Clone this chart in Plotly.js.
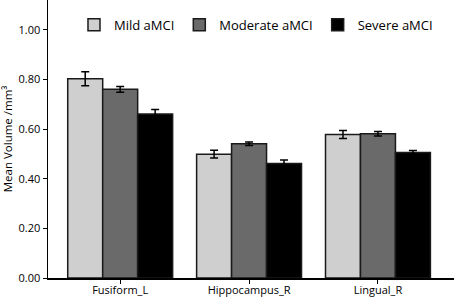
<!DOCTYPE html>
<html>
<head>
<meta charset="utf-8">
<script src="https://cdn.plot.ly/plotly-3.0.1.min.js"></script>
<style>html,body{margin:0;padding:0;background:#fff;}#chart{width:454px;height:298px;}</style>
</head>
<body>
<div id="chart"></div>
<script>
const categories = ["Fusiform_L", "Hippocampus_R", "Lingual_R"];
const seriesNames = ["Mild aMCI", "Moderate aMCI", "Severe aMCI"];
const mildValues = [0.803, 0.499, 0.578];
const mildErrors = [0.028, 0.016, 0.016];
const moderateValues = [0.760, 0.541, 0.581];
const moderateErrors = [0.012, 0.007, 0.009];
const severeValues = [0.661, 0.461, 0.506];
const severeErrors = [0.018, 0.014, 0.008];
const yTickVals = [0, 0.2, 0.4, 0.6, 0.8, 1.0];
const yTickText = ["0.00", "0.20", "0.40", "0.60", "0.80", "1.00"];

const colors = ["#cfcfcf", "#6a6a6a", "#000000"];
const vals = [mildValues, moderateValues, severeValues];
const errs = [mildErrors, moderateErrors, severeErrors];

const FONT = "Open Sans, DejaVu Sans, sans-serif";

const traces = seriesNames.map((name, i) => ({
  type: "bar",
  name: name,
  x: categories,
  y: vals[i],
  marker: {color: colors[i], line: {color: "#1a1a1a", width: 1.5}},
  error_y: {type: "data", array: errs[i], visible: true, color: "#000", thickness: 1.5, width: 4}
}));

const layout = {
  width: 454, height: 298,
  margin: {l: 48, r: 0, t: 0, b: 20, pad: 0},
  paper_bgcolor: "#fff", plot_bgcolor: "#fff",
  barmode: "group", bargap: 0.186, bargroupgap: 0,
  font: {family: FONT, color: "#000", size: 11},
  showlegend: true,
  legend: {
    orientation: "h", x: 0.064, xanchor: "left", y: 0.965, yanchor: "top",
    font: {family: FONT, size: 13, color: "#000"},
    bgcolor: "rgba(0,0,0,0)", borderwidth: 0, traceorder: "normal"
  },
  xaxis: {
    range: [-0.56, 2.59], showline: true, linecolor: "#000", linewidth: 1.5,
    ticks: "outside", ticklen: 4, tickwidth: 1, tickcolor: "#000",
    ticklabelstandoff: -3,
    showgrid: false, zeroline: false, fixedrange: true,
    tickfont: {family: FONT, size: 11, color: "#000"}
  },
  yaxis: {
    range: [0, 1.12], showline: true, linecolor: "#000", linewidth: 1.5,
    ticks: "outside", ticklen: 4, tickwidth: 1, tickcolor: "#000",
    tickvals: yTickVals, ticktext: yTickText,
    showgrid: false, zeroline: false, fixedrange: true,
    tickfont: {family: FONT, size: 11, color: "#000"},
    title: {text: "Mean Volume /mm³", font: {family: FONT, size: 11.5, color: "#000"}, standoff: 5}
  }
};

Plotly.newPlot("chart", traces, layout, {displayModeBar: false, staticPlot: true});
</script>
</body>
</html>
